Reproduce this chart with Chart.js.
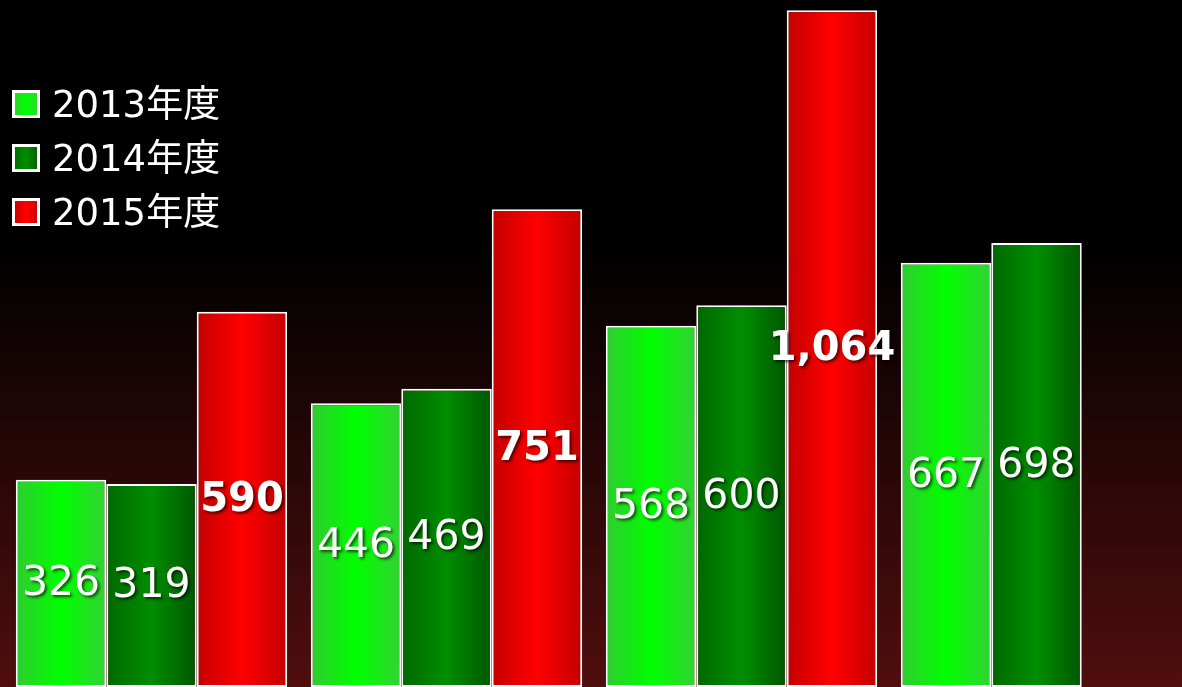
<!DOCTYPE html>
<html>
<head>
<meta charset="utf-8">
<script src="https://cdn.jsdelivr.net/npm/chart.js@4"></script>
<style>
  html, body { margin: 0; padding: 0; overflow: hidden; }
  body {
    width: 1182px; height: 687px;
    background: linear-gradient(to bottom, #000 0%, #000 36%, #500e0e 100%);
  }
  #wrap { position: relative; width: 1184px; height: 687px; }
</style>
</head>
<body>
<div id="wrap"><canvas id="salesChart"></canvas></div>
<script>
// chart data
const categories = ["A", "B", "C", "D"];
const seriesNames = ["2013年度", "2014年度", "2015年度"];
const values2013 = [326, 446, 568, 667];
const values2014 = [319, 469, 600, 698];
const values2015 = [590, 751, 1064, null];

const FONT = '"DejaVu Sans", "Noto Sans CJK JP", sans-serif';
const CAT_PCT = 0.92;

// horizontal gradient stops per series (edge, centre, edge)
const gradStops = [
  ["#30cc30", "#00ff00", "#33d233"],
  ["#006800", "#008e00", "#005600"],
  ["#c40000", "#ff0000", "#c40000"]
];

function barFill(ctx) {
  const chart = ctx.chart;
  const stops = gradStops[ctx.datasetIndex];
  const xs = chart.scales.x;
  if (!chart.chartArea || !xs) return stops[1];
  const center = xs.getPixelForValue(ctx.dataIndex);
  const catW = xs.width / categories.length;
  const groupW = catW * CAT_PCT;
  const barW = groupW / seriesNames.length;
  const left = center - groupW / 2 + ctx.datasetIndex * barW;
  const g = chart.ctx.createLinearGradient(left, 0, left + barW, 0);
  g.addColorStop(0, stops[0]);
  g.addColorStop(0.5, stops[1]);
  g.addColorStop(1, stops[2]);
  return g;
}

// value labels in the middle of each bar
const valueLabels = {
  id: "valueLabels",
  afterDatasetsDraw(chart) {
    const ctx = chart.ctx;
    chart.data.datasets.forEach((ds, di) => {
      const meta = chart.getDatasetMeta(di);
      meta.data.forEach((bar, i) => {
        const v = ds.data[i];
        if (v == null) return;
        ctx.save();
        ctx.font = (di === 2 ? "bold 40px " : "41px ") + FONT;
        ctx.fillStyle = "#fff";
        ctx.textAlign = "center";
        ctx.textBaseline = "middle";
        ctx.shadowColor = "rgba(0,0,0,0.65)";
        ctx.shadowOffsetX = 2;
        ctx.shadowOffsetY = 2;
        ctx.shadowBlur = 3;
        ctx.fillText(v.toLocaleString("en-US"), bar.x, (bar.y + bar.base) / 2 + 1);
        ctx.restore();
      });
    });
  }
};

// legend top-left with gradient squares
const legendBox = {
  id: "legendBox",
  afterDraw(chart) {
    const ctx = chart.ctx;
    chart.data.datasets.forEach((ds, di) => {
      const y = 90 + di * 54;
      const stops = gradStops[di];
      const g = ctx.createLinearGradient(12, 0, 40, 0);
      g.addColorStop(0, stops[0]);
      g.addColorStop(0.5, stops[1]);
      g.addColorStop(1, stops[2]);
      ctx.save();
      ctx.fillStyle = "#fff";
      ctx.fillRect(12, y, 28, 28);
      ctx.fillStyle = g;
      ctx.fillRect(15, y + 3, 22, 22);
      ctx.font = "37px " + FONT;
      ctx.fillStyle = "#fff";
      ctx.textBaseline = "middle";
      ctx.fillText(ds.label, 52, y + 17);
      ctx.restore();
    });
  }
};

const datasets = [values2013, values2014, values2015].map((vals, i) => ({
  label: seriesNames[i],
  data: vals,
  backgroundColor: barFill,
  borderColor: "#ffffff",
  borderWidth: 2,
  borderSkipped: false,
  categoryPercentage: CAT_PCT,
  barPercentage: 1
}));

new Chart(document.getElementById("salesChart"), {
  type: "bar",
  data: { labels: categories, datasets: datasets },
  options: {
    responsive: true,
    maintainAspectRatio: false,
    animation: false,
    layout: { padding: { left: 4, right: 0, top: 0, bottom: 0 } },
    plugins: {
      legend: { display: false },
      tooltip: { enabled: false }
    },
    scales: {
      x: { display: false, grid: { display: false } },
      y: { display: false, min: 0, max: 1080, grid: { display: false } }
    }
  },
  plugins: [valueLabels, legendBox]
});
</script>
</body>
</html>
